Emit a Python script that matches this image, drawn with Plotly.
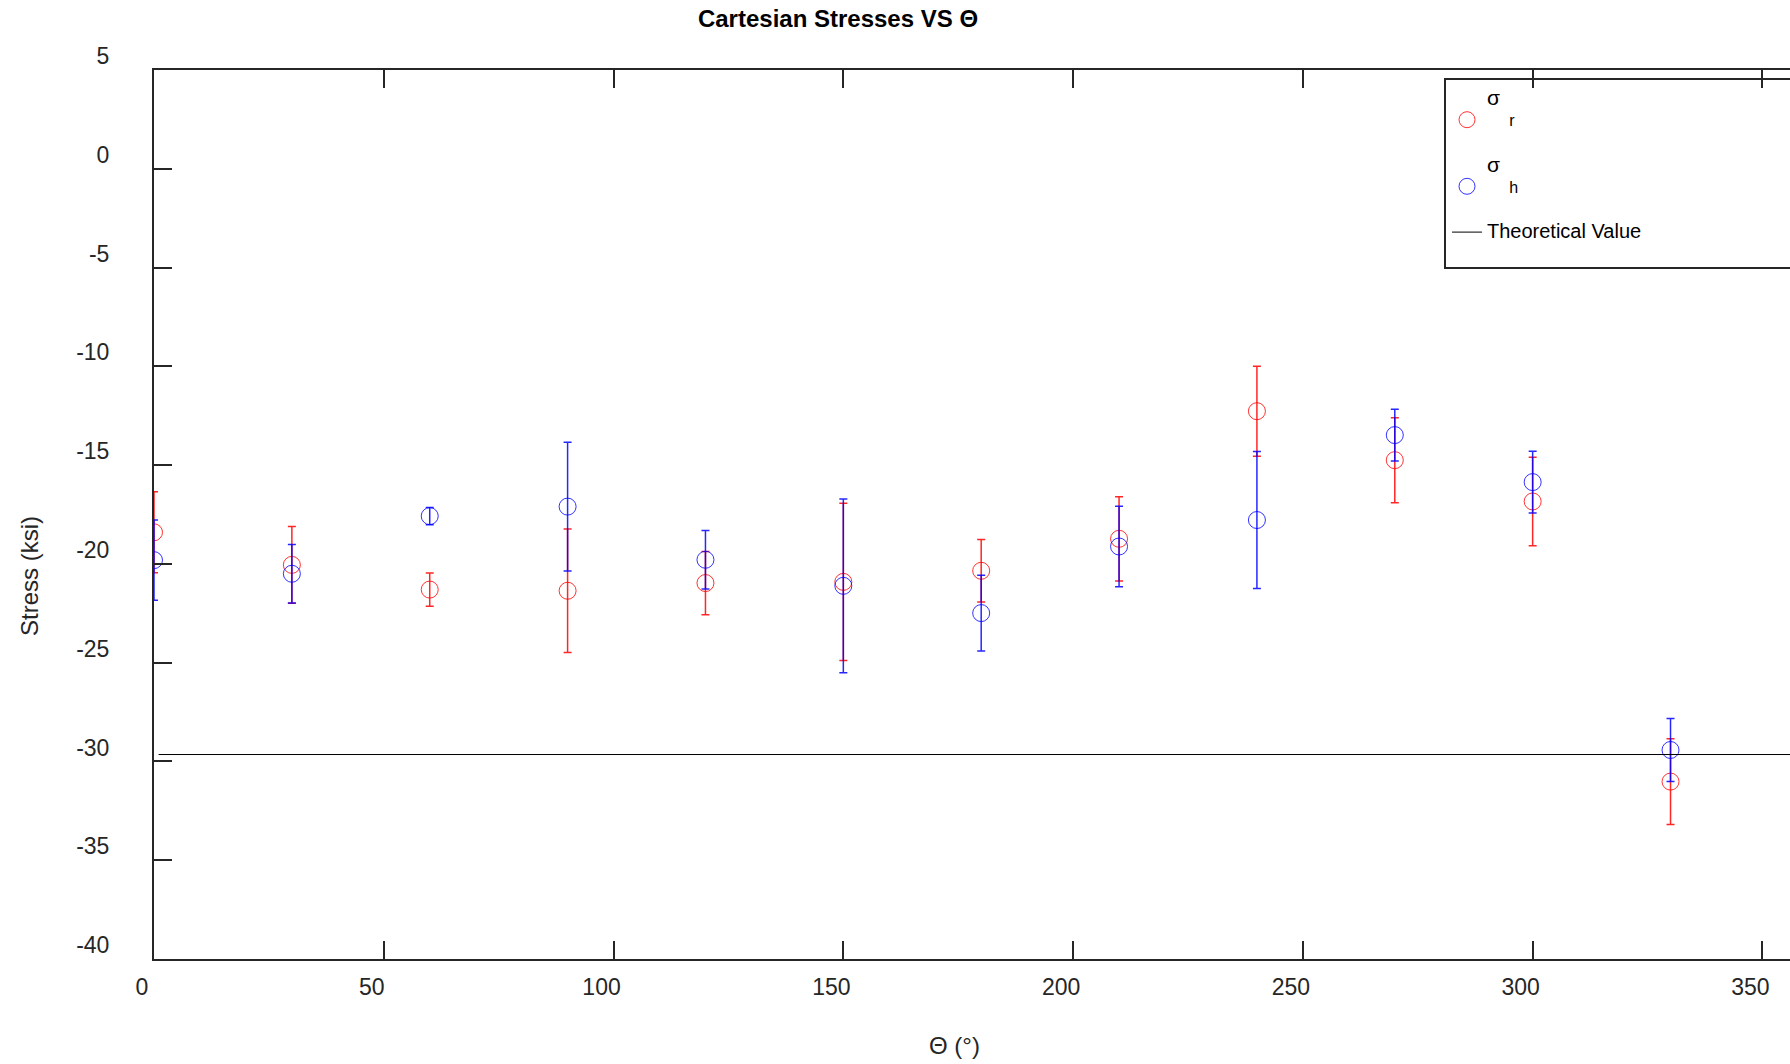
import plotly.graph_objects as go

# ---- data ----
theta = [0, 30, 60, 90, 120, 150, 180, 210, 240, 270, 300, 330]
sigma_r = [-18.40, -20.05, -21.30, -21.36, -20.97, -20.91, -20.35, -18.73, -12.27, -14.75, -16.84, -31.02]
sigma_r_err = [2.05, 1.94, 0.84, 3.13, 1.60, 3.98, 1.58, 2.13, 2.28, 2.15, 2.24, 2.17]
sigma_h = [-19.81, -20.50, -17.58, -17.10, -19.79, -21.11, -22.49, -19.12, -17.78, -13.48, -15.86, -29.42]
sigma_h_err = [2.03, 1.48, 0.44, 3.26, 1.48, 4.40, 1.92, 2.04, 3.47, 1.31, 1.56, 1.59]
theory_x = [1, 360]
theory_value = -29.65

x_ticks = [0, 50, 100, 150, 200, 250, 300, 350]
y_ticks = [5, 0, -5, -10, -15, -20, -25, -30, -35, -40]
y_ticktext = ["5", "0", "-5", "-10", "-15", "-20", "-25", "-30", "-35", "-40"]

FONT = "Liberation Sans, Arial, Helvetica, sans-serif"
AX = "#262626"
NB = "\u00a0"

fig = go.Figure()

fig.add_trace(go.Scatter(
    x=theta, y=sigma_r, mode="markers",
    name="<span style='font-size:21px'>σ</span><br>" + NB * 5 + "r",
    legendgroup="r",
    marker=dict(symbol="circle-open", size=17, color="rgba(255,0,0,0.8)", line=dict(width=1)),
    error_y=dict(type="data", array=sigma_r_err, visible=True,
                 color="rgba(255,0,0,0.85)", thickness=1.5, width=4),
))
fig.add_trace(go.Scatter(
    x=theta, y=sigma_h, mode="markers",
    name="<span style='font-size:21px'>σ</span><br>" + NB * 5 + "h",
    legendgroup="h",
    marker=dict(symbol="circle-open", size=17, color="rgba(0,0,255,0.8)", line=dict(width=1)),
    error_y=dict(type="data", array=sigma_h_err, visible=True,
                 color="rgba(0,0,255,0.85)", thickness=1.5, width=4),
))
fig.add_trace(go.Scatter(
    x=theory_x, y=[theory_value] * len(theory_x), mode="lines",
    name="<span style='font-size:20px'>Theoretical Value</span>",
    legendgroup="t",
    line=dict(color="black", width=1),
))

W, H = 1790, 1064
L, R, T, B = 154, 0, 70, 105
pw, ph = W - L - R, H - T - B


def px_x(p):
    return (p - L) / pw


def px_y(p):
    return (H - B - p) / ph


fig.update_layout(
    width=W, height=H,
    margin=dict(l=L, r=R, t=T, b=B, autoexpand=False),
    paper_bgcolor="white", plot_bgcolor="white",
    font=dict(family=FONT, size=23, color=AX),
    title=dict(text="<b>Cartesian Stresses VS Θ</b>", font=dict(family=FONT, size=24, color="black"),
               xref="paper", x=px_x(838), xanchor="center",
               yref="container", y=1 - 19 / H, yanchor="middle"),
    showlegend=True,
    legend=dict(x=px_x(1447), y=px_y(82), xanchor="left", yanchor="top",
                bgcolor="rgba(0,0,0,0)", borderwidth=0,
                font=dict(family=FONT, size=16, color="black"),
                traceorder="grouped", tracegroupgap=22, valign="bottom"),
    xaxis=dict(range=[0, 356], tickvals=x_ticks,
               ticks="inside", ticklen=18, tickwidth=2, tickcolor=AX,
               showline=True, linewidth=2, linecolor=AX, mirror="ticks",
               showgrid=False, zeroline=False,
               ticklabelshift=-12, ticklabelstandoff=6,
               tickfont=dict(family=FONT, size=23, color=AX)),
    yaxis=dict(range=[-40, 5], tickvals=y_ticks, ticktext=y_ticktext,
               ticks="inside", ticklen=18, tickwidth=2, tickcolor=AX,
               showline=True, linewidth=2, linecolor=AX, mirror=False,
               showgrid=False, zeroline=False,
               ticklabelshift=-14, ticklabelstandoff=38,
               tickfont=dict(family=FONT, size=23, color=AX)),
    shapes=[dict(type="rect", xref="paper", yref="paper",
                 x0=px_x(1445), x1=1.2, y0=px_y(268), y1=px_y(79),
                 line=dict(color=AX, width=2), fillcolor="rgba(0,0,0,0)", layer="above")],
    annotations=[
        dict(text="Θ (°)", xref="paper", yref="paper", x=px_x(954), y=px_y(1045),
             xanchor="center", yanchor="middle", showarrow=False,
             font=dict(family=FONT, size=24, color=AX)),
        dict(text="Stress (ksi)", xref="paper", yref="paper", x=px_x(29), y=px_y(576),
             xanchor="center", yanchor="middle", showarrow=False, textangle=-90,
             font=dict(family=FONT, size=24, color=AX)),
    ],
)

fig.write_html("out.html", config={"displayModeBar": False})
